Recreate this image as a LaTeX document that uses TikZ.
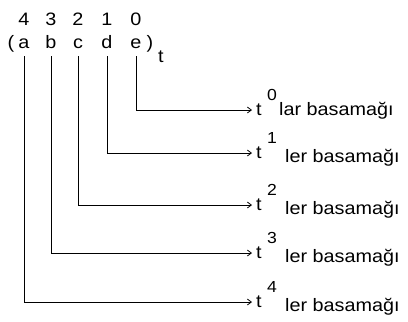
\documentclass[tikz,border=0pt]{standalone}
\usepackage{fontspec}
\setmainfont{Liberation Sans}
\newfontfamily\msf[FakeStretch=1.1]{Liberation Sans}
\usetikzlibrary{arrows.meta}
\begin{document}
\begin{tikzpicture}[x=1pt,y=-1pt,
  txt/.style={inner sep=0pt,font=\msf\fontsize{18}{21}\selectfont,anchor=base},
  sup/.style={inner sep=0pt,font=\msf\fontsize{16}{19}\selectfont,anchor=base west},
  arr/.style={line width=0.9pt,-{Straight Barb[length=4pt,width=6pt,line width=0.8pt]}}]
\useasboundingbox (0,0) rectangle (408,322);
% exponents
\node[txt] (n4) at (24,25) {4};
\node[txt] (n3) at (51,25) {3};
\node[txt] (n2) at (78,25) {2};
\node[txt] (n1) at (107,25) {1};
\node[txt] (n0) at (136,25) {0};
% digits
\node[txt] (lp) at (11,48) {(};
\node[txt] (a) at (24,48) {a};
\node[txt] (b) at (51,48) {b};
\node[txt] (c) at (78,48) {c};
\node[txt] (d) at (107,48) {d};
\node[txt] (e) at (136,48) {e};
\node[txt] (rp) at (150,48) {)};
\node[txt] (base) at (161,62) {t};
% targets
\foreach \i/\y in {0/110,1/153,2/205,3/253,4/302}{
  \coordinate (p\i) at (252,\y);
  \node[txt,anchor=base west] (t\i) at (256,\y+5) {t};
  \node[sup] (s\i) at (267,\y-10) {\i};
}
\node[txt,anchor=base west] (w0) at (279,115) {lar basamağı};
\node[txt,anchor=base west] (w1) at (285,162) {ler basamağı};
\node[txt,anchor=base west] (w2) at (285,214) {ler basamağı};
\node[txt,anchor=base west] (w3) at (285,262) {ler basamağı};
\node[txt,anchor=base west] (w4) at (285,311) {ler basamağı};
% connectors
\draw[arr] ([yshift=-8pt]e.south) |- (p0);
\draw[arr] ([yshift=-8pt]d.south) |- (p1);
\draw[arr] ([yshift=-8pt]c.south) |- (p2);
\draw[arr] ([yshift=-8pt]b.south) |- (p3);
\draw[arr] ([yshift=-8pt]a.south) |- (p4);
\end{tikzpicture}
\end{document}
